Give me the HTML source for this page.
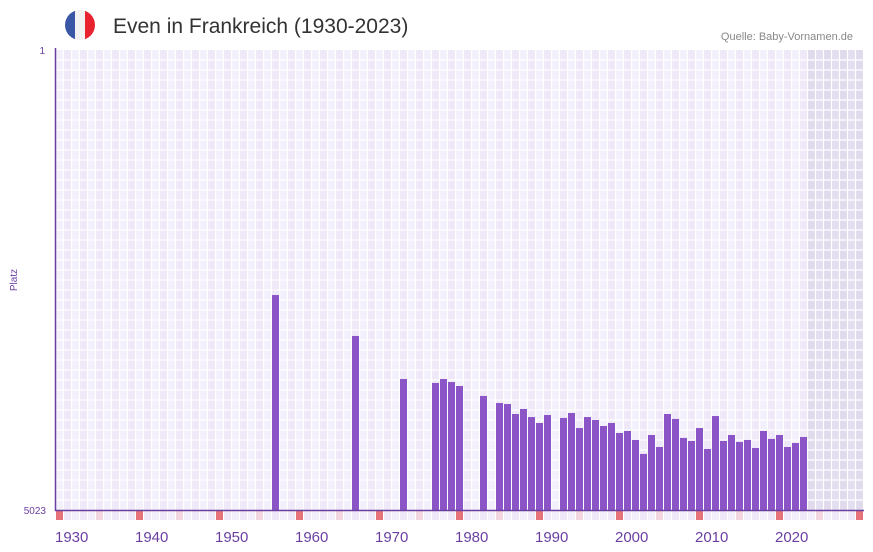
<!DOCTYPE html>
<html><head><meta charset="utf-8"><style>
body{margin:0;background:#fff;}
svg{display:block;font-family:"Liberation Sans",sans-serif;}
</style></head><body>
<svg id="chart" width="873" height="552" viewBox="0 0 873 552">
<defs><clipPath id="fc"><circle cx="80" cy="25" r="15"/></clipPath></defs>
<g clip-path="url(#fc)">
<rect x="65" y="10" width="10" height="30" fill="#3a57a7"/>
<rect x="75" y="10" width="10" height="30" fill="#f2f2f2"/>
<rect x="85" y="10" width="10" height="30" fill="#e8232f"/>
</g>
<text x="113" y="33" font-size="21" fill="#333">Even in Frankreich (1930-2023)</text>
<text x="853" y="40" font-size="11" fill="#888" text-anchor="end">Quelle: Baby-Vornamen.de</text>
<text x="45" y="54" font-size="10" fill="#6a3fa0" text-anchor="end">1</text>
<text x="46" y="514" font-size="10" fill="#6a3fa0" text-anchor="end">5023</text>
<text x="17" y="280" font-size="10" fill="#6a3fa0" text-anchor="middle" transform="rotate(-90 17 280)">Platz</text>
<g id="grid"></g><g id="bars"></g><g id="strip"></g><g id="xlabels"></g>
<line x1="55.5" y1="48" x2="55.5" y2="511" stroke="#6a3fa0" stroke-width="1.5"/>
<line x1="55" y1="510.5" x2="864" y2="510.5" stroke="#6a3fa0" stroke-width="1.5"/>
</svg>
<script>
const years=[1957,1967,1973,1977,1978,1979,1980,1983,1985,1986,1987,1988,1989,1990,1991,1993,1994,1995,1996,1997,1998,1999,2000,2001,2002,2003,2004,2005,2006,2007,2008,2009,2010,2011,2012,2013,2014,2015,2016,2017,2018,2019,2020,2021,2022,2023];
const ranks=[2676,3123,3593,3636,3593,3626,3669,3778,3855,3866,3975,3920,4008,4073,3986,4018,3964,4128,4008,4040,4106,4073,4182,4160,4258,4411,4204,4335,3975,4029,4236,4269,4128,4357,3997,4269,4204,4280,4258,4346,4160,4247,4204,4335,4291,4226];
const xTicks=[1930,1940,1950,1960,1970,1980,1990,2000,2010,2020];
const NS='http://www.w3.org/2000/svg';
const firstYear=1930,nCols=101,maxRank=5023;
const x=y=>56+(y-firstYear)*8;
const yS=r=>50+(r-1)/(maxRank-1)*460;
function mk(t,a,p){const e=document.createElementNS(NS,t);for(const k in a)e.setAttribute(k,a[k]);p.appendChild(e);return e;}
const grid=document.getElementById('grid');
for(let i=0;i<nCols;i++){
  const yr=firstYear+i;
  const c=mk('rect',{x:56+i*8,y:50,width:8,height:460,fill:yr>=2024?(i%2?'#e4dff0':'#e0daec'):(i%2?'#eee8f8':'#f3f0fb')},grid);
  
  
}
for(let i=0;i<nCols+1;i++){mk('line',{x1:56+i*8-0.5,y1:50,x2:56+i*8-0.5,y2:510,stroke:'#fff','stroke-width':1.2},grid);}
for(let yy=60;yy<510;yy+=10){mk('line',{x1:56,y1:yy,x2:864,y2:yy,stroke:'#fff','stroke-width':1.2},grid);}
const bars=document.getElementById('bars');
years.forEach((yr,i)=>{
  const t=yS(ranks[i]);
  const b=mk('rect',{x:x(yr),y:t,width:7,height:510-t,fill:'#8b55c8'},bars);
  
  
});
const strip=document.getElementById('strip');
for(let i=0;i<nCols;i++){
  const yr=firstYear+i;
  const col=yr%10===0?'#e57379':(yr%10===5?'#f3d6e0':(i%2?'#eee8f8':'#f3f0fb'));
  const s=mk('rect',{x:56+i*8,y:511,width:7,height:9,fill:col},strip);
  
  
}
const xl=document.getElementById('xlabels');
xTicks.forEach(t=>{
  const l=mk('text',{x:x(t)-1,y:542,'font-size':15,fill:'#6a3fa0'},xl);
  l.textContent=t;
  
  
});
</script>
</body></html>
